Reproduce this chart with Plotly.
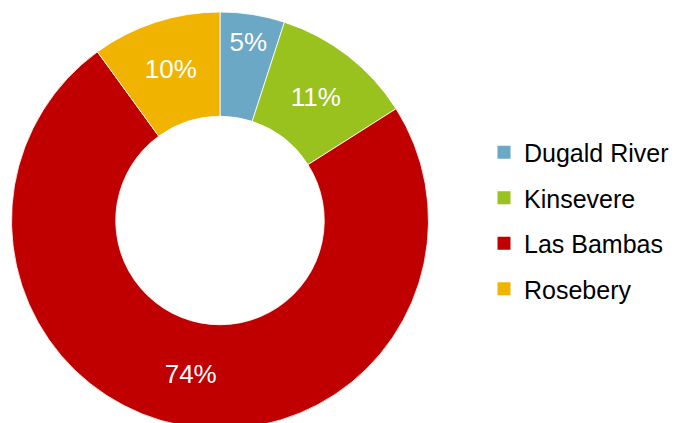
import plotly.graph_objects as go

# Datos
minas = ["Dugald River", "Kinsevere", "Las Bambas", "Rosebery"]
porcentajes = [5, 11, 74, 10]
colores = ["#6aa8c6", "#99c21f", "#c00000", "#f0b400"]

fig = go.Figure(go.Pie(
    labels=minas,
    values=porcentajes,
    hole=0.5,
    sort=False,
    direction="clockwise",
    rotation=0,
    marker=dict(colors=colores, line=dict(color="white", width=0.8)),
    textinfo="percent",
    textposition="inside",
    insidetextorientation="horizontal",
    textfont=dict(family="Liberation Sans, Arial", size=26, color="white"),
    domain=dict(x=[0.0, 424 / 680], y=[0.0, 1.0]),
    showlegend=False,
))

# leyenda con separación propia
for nombre, color in zip(minas, colores):
    fig.add_trace(go.Scatter(
        x=[None], y=[None], mode="markers", name=nombre,
        legendgroup=nombre,
        marker=dict(symbol="square", size=13, color=color),
    ))

fig.update_layout(
    width=680,
    height=423,
    margin=dict(l=0, r=0, t=4, b=2),
    paper_bgcolor="white",
    plot_bgcolor="white",
    xaxis=dict(visible=False),
    yaxis=dict(visible=False),
    showlegend=True,
    legend=dict(
        x=0.70, y=0.5, yanchor="middle", xanchor="left",
        font=dict(family="Liberation Sans, Arial", size=25, color="black"),
        itemwidth=30,
        tracegroupgap=10,
    ),
)

fig.write_html("out.html")
